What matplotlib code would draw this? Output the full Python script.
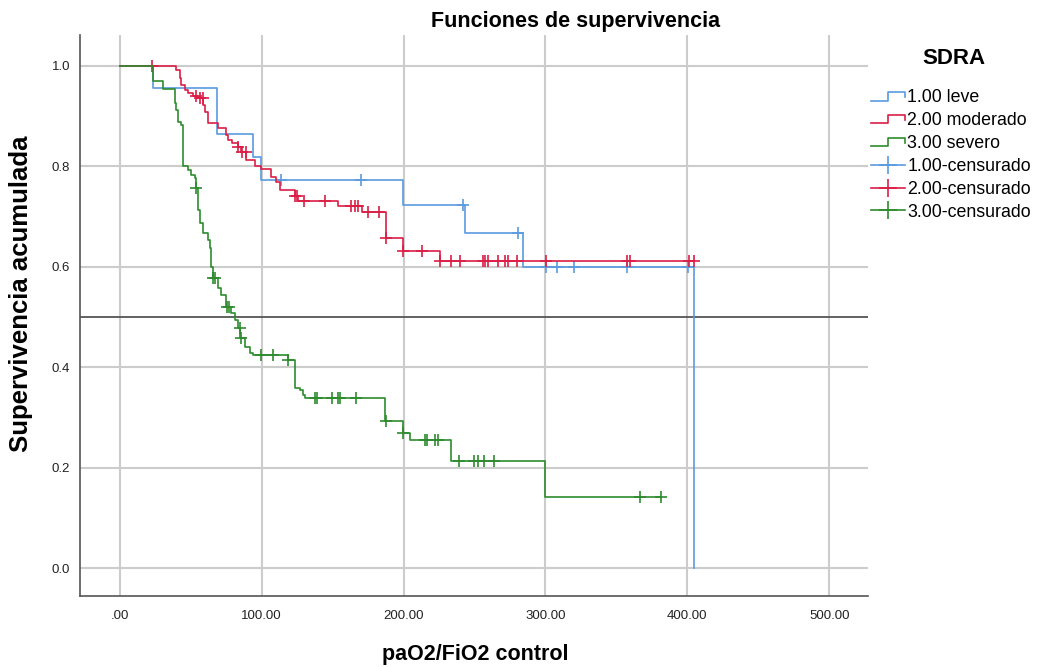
import numpy as np
import matplotlib
matplotlib.use("Agg")
import matplotlib.pyplot as plt
from matplotlib.lines import Line2D
from matplotlib.legend_handler import HandlerBase

plt.rcParams['font.family'] = ['Liberation Sans', 'DejaVu Sans']

# Kaplan-Meier step data (time of event, survival after the event)
t_leve = [0, 23.2, 68.3, 93.7, 99.8, 199.5, 243.0, 284.0, 405.0]
s_leve = [1.0, 0.955, 0.864, 0.818, 0.773, 0.722, 0.667, 0.600, 0.0]
c_leve = [113.8, 169.9, 241.8, 280.5, 300.5, 308.2, 319.9, 357.5, 400.2]

t_mod = [0, 39.9, 42.3, 43.5, 45.8, 48.1, 51.4, 55.1, 58.7, 59.9, 62.2, 69.0,
         75.0, 76.3, 78.9, 83.3, 85.7, 89.2, 95.1, 99.3, 106.8, 109.9, 112.7,
         123.2, 125.6, 153.7, 170.4, 187.3, 199.5, 225.4]
s_mod = [1.0, 0.992, 0.976, 0.962, 0.952, 0.946, 0.940, 0.936, 0.922, 0.908,
         0.886, 0.876, 0.862, 0.852, 0.846, 0.839, 0.829, 0.813, 0.801, 0.795,
         0.779, 0.769, 0.753, 0.741, 0.730, 0.720, 0.710, 0.657, 0.632, 0.612]
c_mod = [23.0, 54.0, 56.3, 58.5, 83.3, 85.9, 88.7, 123.3, 124.6, 129.6,
         144.4, 163.2, 165.5, 167.8, 174.9, 182.6, 187.4, 199.6, 213.2, 225.5,
         233.6, 240.1, 255.8, 257.7, 259.4, 266.9, 271.8, 273.5, 280.1, 300.5,
         357.5, 359.6, 400.9, 404.9]

t_sev = [0, 23.5, 30.5, 38.7, 39.9, 41.1, 43.5, 44.6, 48.1, 50.5, 52.8, 53.5,
         55.1, 56.3, 58.7, 62.2, 63.4, 64.6, 65.5, 69.2, 71.6, 74.6, 78.7,
         81.0, 83.1, 85.0, 88.0, 91.5, 93.9, 118.3, 123.2, 126.8, 129.1, 130.3,
         186.6, 199.5, 204.6, 233.6, 299.8]
s_sev = [1.0, 0.969, 0.954, 0.926, 0.912, 0.889, 0.882, 0.801, 0.793, 0.783,
         0.776, 0.757, 0.713, 0.687, 0.667, 0.653, 0.637, 0.600, 0.578, 0.557,
         0.544, 0.520, 0.507, 0.494, 0.478, 0.458, 0.441, 0.428, 0.424, 0.414,
         0.358, 0.355, 0.345, 0.338, 0.293, 0.270, 0.255, 0.213, 0.141]
c_sev = [54.0, 65.7, 67.0, 75.4, 76.8, 84.5, 85.2, 99.8, 108.0, 118.5,
         137.3, 138.9, 149.8, 153.7, 154.9, 166.7, 187.8, 199.6, 215.3, 216.7,
         222.5, 224.2, 239.4, 250.0, 252.3, 257.0, 263.4, 366.9, 381.5]

groups = [
    ("1.00 leve", "1.00-censurado", t_leve, s_leve, c_leve, '#5a9be0'),
    ("2.00 moderado", "2.00-censurado", t_mod, s_mod, c_mod, '#dc1e46'),
    ("3.00 severo", "3.00-censurado", t_sev, s_sev, c_sev, '#2e8b2e'),
]


class StepHandler(HandlerBase):
    # small step icon like the SPSS legend
    def create_artists(self, legend, orig, xd, yd, w, h, fontsize, trans):
        xs = [xd, xd + w * 0.5, xd + w * 0.5, xd + w, xd + w]
        y0 = yd + h * 0.15
        y1 = yd + h * 0.8
        ys = [y0, y0, y1, y1, y0 + h * 0.25]
        ln = Line2D(xs, ys, color=orig.get_color(), lw=1.2, transform=trans)
        return [ln]


fig = plt.figure(figsize=(10.39, 6.67), dpi=100)
ax = fig.add_axes([0.077, 0.106, 0.758, 0.842])

ax.set_xlim(-28, 527)
ax.set_ylim(-0.056, 1.062)
ax.set_xticks([0, 100, 200, 300, 400, 500])
ax.set_xticklabels(['.00', '100.00', '200.00', '300.00', '400.00', '500.00'])
ax.set_yticks([0, 0.2, 0.4, 0.6, 0.8, 1.0])
ax.set_yticklabels(['0.0', '0.2', '0.4', '0.6', '0.8', '1.0'])
ax.grid(True, color='#cccccc', lw=1.5)
ax.set_axisbelow(True)
ax.tick_params(length=0, labelsize=9.5, colors='#222222')
ax.tick_params(axis='x', pad=10)
ax.tick_params(axis='y', pad=7)
for side in ['top', 'right']:
    ax.spines[side].set_visible(False)
for side in ['left', 'bottom']:
    ax.spines[side].set_color('#555555')
    ax.spines[side].set_linewidth(1.2)

ax.axhline(0.5, color='#555555', lw=1.3)

step_handles = []
for name, cname, t, s, c, col in groups:
    t = np.array(t)
    s = np.array(s)
    c = np.array(c)
    tt = t
    ss = s
    if c.max() > t.max():
        tt = np.append(t, c.max())
        ss = np.append(s, s[-1])
    h1, = ax.step(tt, ss, where='post', color=col, lw=1.2, label=name)
    cy = s[np.searchsorted(t, c, side='right') - 1]
    ax.plot(c, cy, ls='none', marker='+', ms=8, mew=1.2, color=col)
    step_handles.append(h1)

fig.text(0.554, 0.968, 'Funciones de supervivencia', ha='center', va='center',
         fontsize=15.5, fontweight='bold')
fig.text(0.02, 0.56, 'Supervivencia acumulada', ha='center', va='center',
         rotation=90, fontsize=18.5, fontweight='bold')
fig.text(0.457, 0.018, 'paO2/FiO2 control', ha='center', va='center',
         fontsize=15.5, fontweight='bold')

labels = [g[0] for g in groups] + [g[1] for g in groups]
leg_cens = [Line2D([], [], color=g[5], lw=1.2, marker='+', ms=13, mew=1.2)
            for g in groups]
fig.text(0.918, 0.913, 'SDRA', ha='center', va='center', fontsize=16,
         fontweight='bold')
leg = fig.legend(step_handles + leg_cens, labels,
                 handler_map={h: StepHandler() for h in step_handles},
                 loc='upper left', bbox_to_anchor=(0.838, 0.866),
                 frameon=False, fontsize=12.8, handlelength=1.95,
                 handletextpad=0.1, labelspacing=0.33, borderpad=0,
                 borderaxespad=0)

fig.savefig('out.png', dpi=100)
